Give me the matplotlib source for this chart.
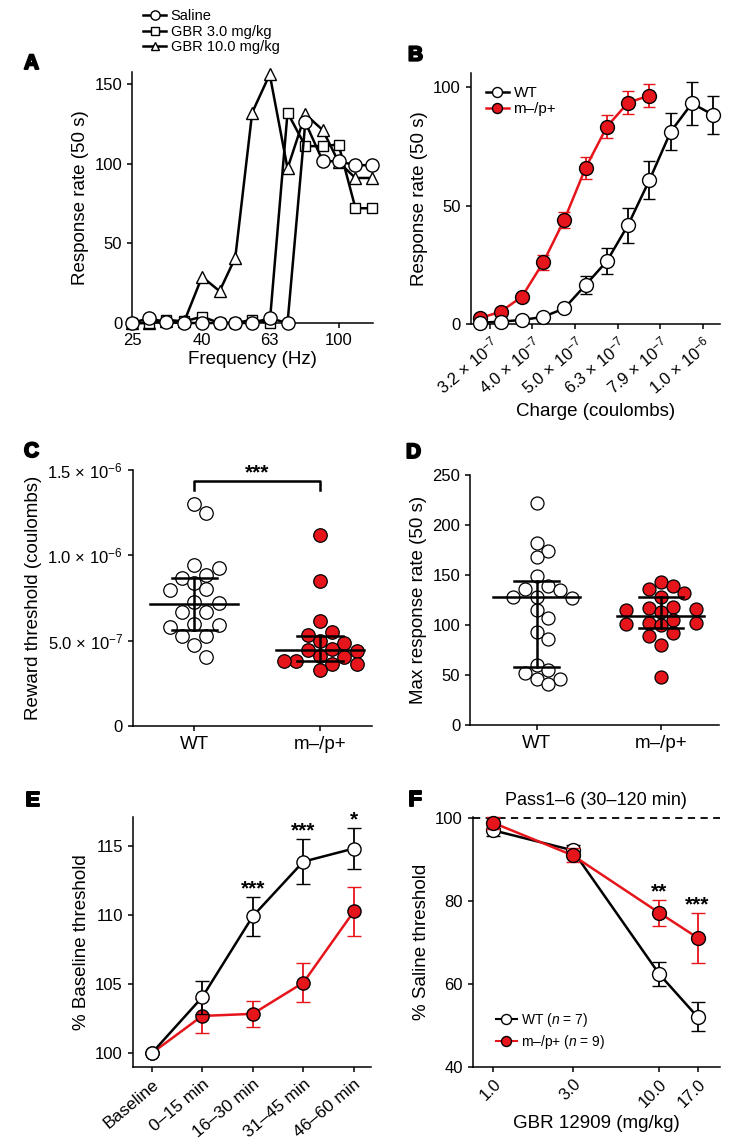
import numpy as np
import matplotlib
matplotlib.use("Agg")
import matplotlib.pyplot as plt
import matplotlib.ticker as mticker
import matplotlib.patheffects as pe
from matplotlib.lines import Line2D

# ---- panel A: frequency-response curves ----
FREQ_HZ = [25, 28, 31.5, 35.5, 40, 45, 50, 56, 63, 71, 80, 90, 100, 112, 125]
SALINE = [0, 3, 0.5, 0, 0, 0, 0, 0, 3, 0, 126, 101.5, 101.5, 99, 99]
GBR3 = [0, 0, 2, 1, 4, 0, 0, 2, 0, 132, 111, 111, 112, 72, 72]
GBR10 = [0, 0, 1, 1, 29, 20, 41, 132, 156, 97, 131, 121, 101, 91, 91]

# ---- panel B: charge-response curves (charge in units of 1e-7 C) ----
CHARGE_E7 = [2.99, 3.35, 3.76, 4.22, 4.73, 5.31, 5.96, 6.68, 7.50, 8.42, 9.44, 10.6]
B_WT = [0.5, 1, 1.7, 3, 6.6, 16.5, 26.6, 41.8, 60.8, 81.3, 93.2, 88.3]
B_WT_SEM = [0.5, 0.5, 0.5, 0.8, 1.0, 3.9, 5.6, 7.4, 8.0, 7.8, 9.0, 8.2]
B_MUT = [2.4, 5.2, 11.5, 26, 44, 66, 83.4, 93.5, 96.5]
B_MUT_SEM = [0.5, 0.8, 1.5, 3.2, 3.5, 4.6, 5.0, 4.9, 5.0]
B_TICKS_E7 = [3.162, 3.981, 5.012, 6.310, 7.943, 10.0]
B_TICK_LABELS = ["3.2 × 10$^{-7}$", "4.0 × 10$^{-7}$", "5.0 × 10$^{-7}$",
                 "6.3 × 10$^{-7}$", "7.9 × 10$^{-7}$", "1.0 × 10$^{-6}$"]

# ---- panel C: reward thresholds (units of 1e-7 C), median + IQR ----
C_WT = [13.0, 12.5, 9.45, 9.25, 8.85, 8.7, 8.35, 8.05, 7.95, 7.25, 7.2,
        6.7, 6.7, 6.0, 5.9, 5.8, 5.3, 5.3, 4.75, 4.05]
C_MUT = [11.2, 8.5, 6.17, 5.49, 5.33, 5.0, 4.88, 4.5, 4.45, 4.4, 4.1, 4.03,
         3.83, 3.83, 3.63, 3.63, 3.28]
C_SUMMARY = {"WT": (7.15, 5.6, 8.65), "MUT": (4.45, 3.8, 5.3)}

# ---- panel D: max response rate ----
D_WT = [222, 182, 174, 168, 149, 139, 136, 135, 128, 128, 127, 115, 107,
        93, 86, 60, 55, 52, 46, 46, 41]
D_MUT = [143, 139, 136, 132, 128, 118, 117, 116, 115, 113, 105, 102, 102,
         101, 100, 92, 89, 80, 48]
D_SUMMARY = {"WT": (127.7, 57.7, 144.3), "MUT": (109, 97.3, 128.3)}

# ---- panel E: % baseline threshold over time ----
E_LABELS = ["Baseline", "0–15 min", "16–30 min", "31–45 min", "46–60 min"]
E_WT = [100, 104.05, 109.9, 113.85, 114.8]
E_WT_SEM = [0, 1.2, 1.4, 1.65, 1.5]
E_MUT = [100, 102.7, 102.85, 105.1, 110.25]
E_MUT_SEM = [0, 1.2, 0.95, 1.4, 1.8]
E_STARS = ["", "", "***", "***", "*"]

# ---- panel F: % saline threshold vs GBR dose ----
F_DOSE = [1.0, 3.0, 10.0, 17.0]
F_WT = [97.0, 92.2, 62.3, 52.0]
F_WT_SEM = [1.4, 1.3, 2.85, 3.5]
F_MUT = [98.8, 91.0, 77.1, 71.1]
F_MUT_SEM = [1.4, 1.7, 3.2, 6.0]
F_STARS = ["", "", "**", "***"]

RED = "#e6151b"

plt.rcParams.update({
    "font.family": ["Liberation Sans", "DejaVu Sans"],
    "mathtext.fontset": "custom",
    "mathtext.rm": "Liberation Sans",
    "mathtext.it": "Liberation Sans:italic",
    "mathtext.bf": "Liberation Sans:bold",
    "axes.spines.top": False,
    "axes.spines.right": False,
    "axes.linewidth": 1.1,
    "xtick.major.width": 1.1,
    "ytick.major.width": 1.1,
    "xtick.major.size": 3.5,
    "ytick.major.size": 3.5,
    "xtick.labelsize": 12,
    "ytick.labelsize": 12,
    "axes.labelsize": 13.5,
})

W, H = 755, 1148
fig = plt.figure(figsize=(W / 100, H / 100), dpi=100)


def px_axes(left, top, right, bottom):
    return fig.add_axes([left / W, 1 - bottom / H, (right - left) / W, (bottom - top) / H])


def panel_letter(x, y, s):
    fig.text(x / W, 1 - y / H, s, fontsize=15, fontweight="bold", ha="left",
             va="baseline",
             path_effects=[pe.withStroke(linewidth=1.4, foreground="black")])


def swarm_offsets(ax, values, d_px, step=0.9, min_gap=0.95, max_cols=3):
    """Compact beeswarm: offsets (x data units); crowded rows may overlap a little."""
    tr = ax.transData
    vals = np.asarray(values, dtype=float)
    y_px = tr.transform(np.column_stack([np.zeros(len(vals)), vals]))[:, 1]
    x_unit = tr.transform((1, 0))[0] - tr.transform((0, 0))[0]
    cands = [0] + [s * j for j in range(1, max_cols + 1) for s in (1, -1)]
    placed, offs = [], np.zeros(len(vals))
    for i in np.argsort(-vals):
        best, best_gap = 0.0, -1.0
        for c in cands:
            xo = c * step * d_px
            gap = min([np.hypot(xo - px, y_px[i] - py) for px, py in placed],
                      default=np.inf)
            if gap >= min_gap * d_px:
                best = xo
                break
            if gap > best_gap + 1e-9:
                best, best_gap = xo, gap
        placed.append((best, y_px[i]))
        offs[i] = best / x_unit
    return offs


def dot_column(ax, xc, values, face, summary, d_px=13.5):
    offs = swarm_offsets(ax, values, d_px)
    ax.scatter(xc + offs, values, s=(d_px * 0.72) ** 2, facecolor=face,
               edgecolor="black", linewidth=0.9, zorder=3, clip_on=False)
    mid, lo, hi = summary
    ax.plot([xc - 0.35, xc + 0.35], [mid, mid], color="black", lw=1.8, zorder=4)
    ax.plot([xc - 0.18, xc + 0.18], [lo, lo], color="black", lw=1.8, zorder=4)
    ax.plot([xc - 0.18, xc + 0.18], [hi, hi], color="black", lw=1.8, zorder=4)
    ax.plot([xc, xc], [lo, hi], color="black", lw=1.8, zorder=4)


def stars(ax, xs, tops, labels):
    for x, t, lab in zip(xs, tops, labels):
        if lab:
            ax.annotate(lab, (x, t), xytext=(0, -1), textcoords="offset points",
                        ha="center", va="bottom", fontsize=15, fontweight="bold")


# ================= A =================
axA = px_axes(132, 72, 373, 323)
axA.set_xscale("log")
series_A = [(GBR10, "^", 8.5, "GBR 10.0 mg/kg"),
            (GBR3, "s", 7.5, "GBR 3.0 mg/kg"),
            (SALINE, "o", 9.5, "Saline")]
handles_A = []
for vals, m, ms, lab in series_A:
    ln, = axA.plot(FREQ_HZ, vals, marker=m, ms=ms, mfc="white", mec="black",
                   mew=1.0, color="black", lw=1.8, clip_on=False, zorder=3, label=lab)
    handles_A.append(ln)
axA.set_xlim(25, 126)
axA.set_ylim(0, 157.5)
axA.xaxis.set_minor_locator(mticker.NullLocator())
axA.set_xticks([25, 40, 63, 100])
axA.set_xticklabels(["25", "40", "63", "100"])
axA.set_yticks([0, 50, 100, 150])
axA.set_xlabel("Frequency (Hz)", labelpad=2)
axA.set_ylabel("Response rate (50 s)")
fig.legend(handles_A[::-1], [h.get_label() for h in handles_A[::-1]],
           loc="upper left", bbox_to_anchor=(143 / W, 1 - 9 / H),
           frameon=False, fontsize=10.5, handlelength=1.6, handletextpad=0.3,
           labelspacing=0.12, borderpad=0, borderaxespad=0, markerscale=0.7)
panel_letter(24, 69, "A")

# ================= B =================
axB = px_axes(470.7, 73.3, 720, 324)
axB.set_xscale("log")
xB = np.array(CHARGE_E7) * 1e-7
axB.errorbar(xB[:len(B_MUT)], B_MUT, yerr=B_MUT_SEM, color=RED, lw=1.8,
             marker="o", ms=10, mfc=RED, mec="black", mew=1.0, capsize=4.5,
             elinewidth=1.3, capthick=1.3, clip_on=False, zorder=3)
axB.errorbar(xB, B_WT, yerr=B_WT_SEM, color="black", lw=1.8,
             marker="o", ms=10, mfc="white", mec="black", mew=1.0, capsize=4.5,
             elinewidth=1.3, capthick=1.3, clip_on=False, zorder=4)
axB.set_xlim(2.85e-7, 1.099e-6)
axB.set_ylim(0, 105.9)
axB.xaxis.set_minor_locator(mticker.NullLocator())
axB.set_xticks(np.array(B_TICKS_E7) * 1e-7)
axB.set_xticklabels(B_TICK_LABELS, rotation=40, ha="right", rotation_mode="anchor",
                    fontsize=12)
axB.set_yticks([0, 50, 100])
axB.set_xlabel("Charge (coulombs)")
axB.set_ylabel("Response rate (50 s)")
hB = [Line2D([], [], color="black", lw=1.8, marker="o", ms=10, mfc="white", mec="black"),
      Line2D([], [], color=RED, lw=1.8, marker="o", ms=10, mfc=RED, mec="black")]
fig.legend(hB, ["WT", "m–/p+"], loc="upper left", bbox_to_anchor=(486 / W, 1 - 86 / H),
           frameon=False, fontsize=11, handlelength=1.5, handletextpad=0.3,
           labelspacing=0.15, borderpad=0, borderaxespad=0, markerscale=0.72)
panel_letter(408, 60.7, "B")

# ================= C =================
axC = px_axes(132.7, 470, 371.7, 726)
axC.set_xlim(-0.49, 1.41)
axC.set_ylim(0, 15)
axC.set_yticks([0, 5, 10, 15])
axC.set_yticklabels(["0", "5.0 × 10$^{-7}$", "1.0 × 10$^{-6}$", "1.5 × 10$^{-6}$"])
axC.set_xticks([0, 1])
axC.set_xticklabels(["WT", "m–/p+"], fontsize=13.5)
axC.set_ylabel("Reward threshold (coulombs)")
dot_column(axC, 0, C_WT, "white", C_SUMMARY["WT"])
dot_column(axC, 1, C_MUT, RED, C_SUMMARY["MUT"])
axC.plot([0, 0, 1, 1], [13.83, 14.36, 14.36, 13.83], color="black", lw=1.8,
         clip_on=False)
stars(axC, [0.5], [14.36], ["***"])
panel_letter(24, 457, "C")

# ================= D =================
axD = px_axes(470, 475, 719.3, 725)
axD.set_xlim(-0.536, 1.47)
axD.set_ylim(0, 250)
axD.set_yticks([0, 50, 100, 150, 200, 250])
axD.set_xticks([0, 1])
axD.set_xticklabels(["WT", "m–/p+"], fontsize=13.5)
axD.set_ylabel("Max response rate (50 s)")
dot_column(axD, 0, D_WT, "white", D_SUMMARY["WT"], d_px=13)
dot_column(axD, 1, D_MUT, RED, D_SUMMARY["MUT"], d_px=13)
panel_letter(406, 458, "D")

# ================= E =================
axE = px_axes(132.7, 816.7, 371, 1066.7)
xE = np.arange(len(E_LABELS))
axE.errorbar(xE, E_MUT, yerr=E_MUT_SEM, color=RED, lw=1.8, marker="o", ms=9.5,
             mfc=RED, mec="black", mew=1.0, capsize=5, elinewidth=1.3,
             capthick=1.3, ecolor=RED, zorder=3)
axE.errorbar(xE, E_WT, yerr=E_WT_SEM, color="black", lw=1.8, marker="o", ms=9.5,
             mfc="white", mec="black", mew=1.0, capsize=5, elinewidth=1.3,
             capthick=1.3, zorder=4)
axE.set_xlim(-0.375, 4.34)
axE.set_ylim(99.03, 117.1)
axE.set_yticks([100, 105, 110, 115])
axE.set_xticks(xE)
axE.set_xticklabels(E_LABELS, rotation=40, ha="right", rotation_mode="anchor",
                    fontsize=12.5)
axE.set_ylabel("% Baseline threshold")
stars(axE, xE, np.array(E_WT) + np.array(E_WT_SEM), E_STARS)
panel_letter(26, 806, "E")

# ================= F =================
axF = px_axes(472.7, 816.7, 720, 1066.7)
axF.set_xscale("log")
axF.axhline(100, color="black", lw=1.3, ls=(0, (4, 3)), zorder=1)
axF.errorbar(F_DOSE, F_WT, yerr=F_WT_SEM, color="black", lw=1.8, marker="o",
             ms=10, mfc="white", mec="black", mew=1.0, capsize=5, elinewidth=1.3,
             capthick=1.3, zorder=3, clip_on=False)
axF.errorbar(F_DOSE, F_MUT, yerr=F_MUT_SEM, color=RED, lw=1.8, marker="o", ms=10,
             mfc=RED, mec="black", mew=1.0, capsize=5, elinewidth=1.3,
             capthick=1.3, ecolor=RED, zorder=4, clip_on=False)
axF.set_xlim(0.75, 23.2)
axF.set_ylim(40, 100.3)
axF.set_yticks([40, 60, 80, 100])
axF.xaxis.set_minor_locator(mticker.NullLocator())
axF.set_xticks(F_DOSE)
axF.set_xticklabels([f"{d:.1f}" for d in F_DOSE], rotation=45, ha="right",
                    rotation_mode="anchor")
axF.set_xlabel("GBR 12909 (mg/kg)")
axF.set_ylabel("% Saline threshold")
axF.set_title("Pass1–6 (30–120 min)", fontsize=13, pad=8.5)
stars(axF, F_DOSE, np.array(F_MUT) + np.array(F_MUT_SEM), F_STARS)
hF = [Line2D([], [], color="black", lw=1.5, marker="o", ms=10, mfc="white", mec="black"),
      Line2D([], [], color=RED, lw=1.5, marker="o", ms=10, mfc=RED, mec="black")]
fig.legend(hF, ["WT ($n$ = 7)", "m–/p+ ($n$ = 9)"], loc="upper left",
           bbox_to_anchor=(496 / W, 1 - 1011 / H), frameon=False, fontsize=10,
           handlelength=1.5, handletextpad=0.3, labelspacing=0.3, borderpad=0,
           borderaxespad=0, markerscale=0.72)
panel_letter(409, 805.7, "F")

fig.savefig("out.png", dpi=100)
